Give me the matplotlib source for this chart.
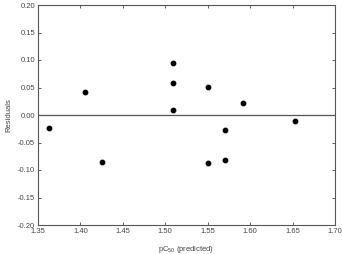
import matplotlib
matplotlib.use("Agg")
import matplotlib.pyplot as plt

plt.rcParams['font.family'] = ['Liberation Sans', 'DejaVu Sans']
plt.rcParams['mathtext.default'] = 'regular'

# predicted vs residuals
pc_pred = [1.363, 1.405, 1.426, 1.509, 1.509, 1.509, 1.550, 1.550,
           1.570, 1.570, 1.591, 1.653]
resid = [-0.023, 0.041, -0.086, 0.094, 0.058, 0.009, 0.051, -0.088,
         -0.027, -0.081, 0.021, -0.011]

fig = plt.figure(figsize=(3.42, 2.54), dpi=100)
ax = fig.add_axes([38/342, 29/254, 297/342, 220/254])

ax.scatter(pc_pred, resid, s=10, color='black', zorder=3)
ax.axhline(0, color='#555555', lw=0.9)

ax.set_xlim(1.35, 1.70)
ax.set_ylim(-0.20, 0.20)
ax.set_xticks([1.35, 1.40, 1.45, 1.50, 1.55, 1.60, 1.65, 1.70])
ax.set_yticks([-0.20, -0.15, -0.10, -0.05, 0.00, 0.05, 0.10, 0.15, 0.20])
ax.xaxis.set_major_formatter(matplotlib.ticker.FormatStrFormatter('%.2f'))
ax.yaxis.set_major_formatter(matplotlib.ticker.FormatStrFormatter('%.2f'))
ax.tick_params(direction='in', top=True, right=True, length=2.5, width=0.6,
               labelsize=5.5, labelcolor='#444444', color='#444444', pad=2)
for s in ax.spines.values():
    s.set_color('#555555')
    s.set_linewidth(0.8)

ax.set_xlabel('pC$_{50}$ (predicted)', fontsize=5.5, color='#444444', labelpad=6.5)
ax.set_ylabel('Residuals', fontsize=5.5, color='#444444', labelpad=4)

fig.savefig('out.png', dpi=100)
